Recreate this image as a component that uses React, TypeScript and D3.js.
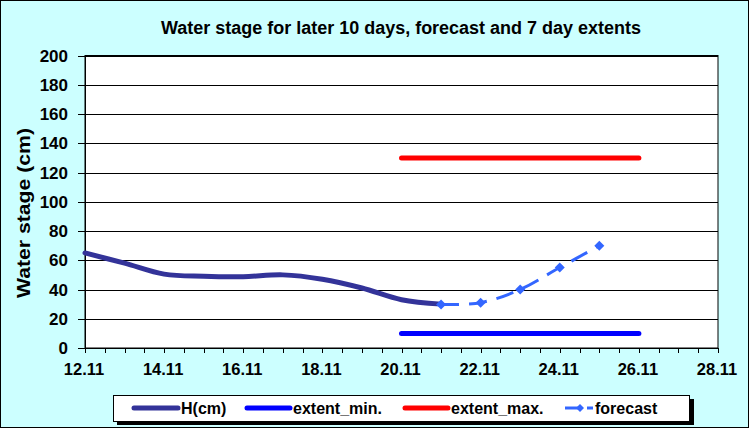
import React from "react";
import * as d3 from "d3";

const hDays = [12, 13, 14, 15, 16, 17, 18, 19, 20, 21];
const hValues = [65, 58, 50.5, 49, 48.7, 50, 47, 41, 33, 30];
const fcDays = [21, 22, 23, 24, 25];
const fcValues = [29.8, 31, 40, 55, 70];
const extentDays = [20, 26];
const extentMin = [10, 10];
const extentMax = [130, 130];
const xTickDays = [12, 14, 16, 18, 20, 22, 24, 26, 28];
const yTicks = [0, 20, 40, 60, 80, 100, 120, 140, 160, 180, 200];

const W = 750, H = 429;
const m = { left: 85, right: 718, top: 55.5, bottom: 348 };
const FONT = "'Liberation Sans', Arial, sans-serif";

export default function App() {
  const x = d3.scaleLinear().domain([12, 28]).range([m.left, m.right]);
  const y = d3.scaleLinear().domain([0, 200]).range([m.bottom, m.top]);
  const smooth = d3.line<[number, number]>().x(d => x(d[0])).y(d => y(d[1])).curve(d3.curveCardinal.tension(0));
  const straight = d3.line<[number, number]>().x(d => x(d[0])).y(d => y(d[1]));
  const hPts = hDays.map((d, i) => [d, hValues[i]] as [number, number]);
  const fPts = fcDays.map((d, i) => [d, fcValues[i]] as [number, number]);
  const minPts = extentDays.map((d, i) => [d, extentMin[i]] as [number, number]);
  const maxPts = extentDays.map((d, i) => [d, extentMax[i]] as [number, number]);
  const minorTicks = d3.range(12, 28.001, 0.5);
  const diamond = (cx: number, cy: number, r: number) => `M${cx},${cy - r}L${cx + r},${cy}L${cx},${cy + r}L${cx - r},${cy}Z`;

  const legendY = 408;
  return (
    <svg width={W} height={H} style={{ position: "absolute", left: 0, top: 0 }} fontFamily={FONT}>
      <rect x={0.5} y={0.5} width={W - 2} height={H - 2} fill="#CCFFFF" stroke="#000" />
      <text x={401} y={34} textAnchor="middle" fontSize={18} fontWeight="bold" textLength={480} lengthAdjust="spacingAndGlyphs">Water stage for later 10 days, forecast and 7 day extents</text>
      <rect x={m.left} y={m.top} width={m.right - m.left} height={m.bottom - m.top} fill="#fff" stroke="#000" />
      {yTicks.map(t => (
        <g key={t}>
          <line x1={m.left - 7} x2={m.right} y1={Math.round(y(t)) + 0.5} y2={Math.round(y(t)) + 0.5} stroke="#000" />
          <text x={68} y={y(t) + 6} textAnchor="end" fontSize={17} fontWeight="bold">{t}</text>
        </g>
      ))}
      <line x1={m.left + 0.5} x2={m.left + 0.5} y1={m.top} y2={m.bottom} stroke="#000" />
      {minorTicks.map(t => (
        <line key={t} x1={Math.round(x(t)) + 0.5} x2={Math.round(x(t)) + 0.5} y1={m.bottom} y2={m.bottom + 5} stroke="#000" />
      ))}
      {xTickDays.map(t => (
        <text key={t} x={x(t) - 1} y={375} textAnchor="middle" fontSize={16.5} fontWeight="bold">{`${t}.11`}</text>
      ))}
      <text transform={`translate(30,${213}) rotate(-90)`} textAnchor="middle" fontSize={18} fontWeight="bold" textLength={170} lengthAdjust="spacingAndGlyphs">Water stage (cm)</text>

      <path d={straight(maxPts) || ""} fill="none" stroke="#FF0000" strokeWidth={5} strokeLinecap="round" />
      <path d={straight(minPts) || ""} fill="none" stroke="#0000FF" strokeWidth={5} strokeLinecap="round" />
      <path d={smooth(hPts) || ""} fill="none" stroke="#333399" strokeWidth={5} strokeLinecap="round" />
      <path d={smooth(fPts) || ""} fill="none" stroke="#3366FF" strokeWidth={3} strokeDasharray="18,10" />
      {fPts.map((p, i) => (
        <path key={i} d={diamond(x(p[0]), y(p[1]), 5)} fill="#3366FF" />
      ))}

      <rect x={117} y={399} width={577} height={26} fill="#000" />
      <rect x={113.5} y={395.5} width={576} height={26} fill="#fff" stroke="#000" />
      <line x1={134} x2={178} y1={legendY} y2={legendY} stroke="#333399" strokeWidth={5} strokeLinecap="round" />
      <text x={181} y={legendY + 6} fontSize={16} fontWeight="bold">H(cm)</text>
      <line x1={247} x2={290} y1={legendY} y2={legendY} stroke="#0000FF" strokeWidth={5} strokeLinecap="round" />
      <text x={293} y={legendY + 6} fontSize={16} fontWeight="bold">extent_min.</text>
      <line x1={405} x2={448} y1={legendY} y2={legendY} stroke="#FF0000" strokeWidth={5} strokeLinecap="round" />
      <text x={451} y={legendY + 6} fontSize={16} fontWeight="bold">extent_max.</text>
      <line x1={565} x2={582} y1={legendY} y2={legendY} stroke="#3366FF" strokeWidth={3} />
      <line x1={587} x2={593} y1={legendY} y2={legendY} stroke="#3366FF" strokeWidth={3} />
      <path d={diamond(580, legendY, 4)} fill="#3366FF" />
      <text x={595} y={legendY + 6} fontSize={16} fontWeight="bold">forecast</text>
    </svg>
  );
}
